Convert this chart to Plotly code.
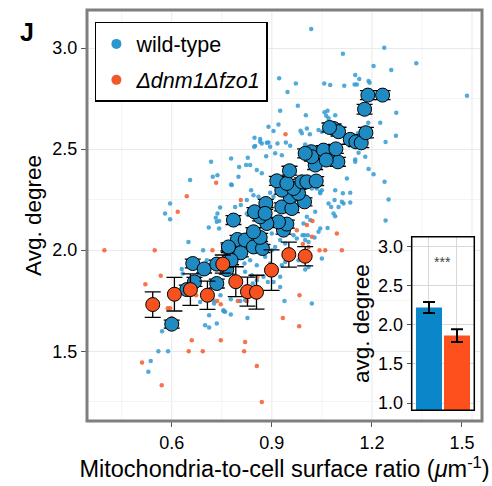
import plotly.graph_objects as go

# ---------------- data ----------------
# small dots: wild-type
wt_x = [0.778,0.828,0.718,0.802,0.823,0.723,0.737,0.655,0.778,0.800,0.595,0.580,0.595,0.745,0.737,0.735,0.711,0.742,0.807,0.825,0.650,
        1.018,1.113,1.150,0.922,0.972,1.057,1.075,1.117,1.148,0.947,0.978,0.925,1.002,1.058,1.063,1.090,1.070,0.920,0.890,0.905,0.986,1.005,1.014,1.040,1.050,0.848,0.865,0.890,0.917,0.942,0.955,1.000,0.850,0.870,
        1.237,1.205,1.258,1.333,1.485,1.162,1.190,1.193,1.155,1.273,1.189,1.225,1.272,1.241,1.158,
        1.160,1.180,1.150,1.190,1.205,1.238,1.250,1.241,
        0.865,0.847,0.885,0.895,0.930,0.910,0.883,0.990,1.067,1.125,1.150,1.135,1.113,1.090,1.088,1.115,1.135,1.070,1.090,1.067,1.040,0.998,1.035,1.050,1.045,
        0.835,0.780,0.855,0.870,0.838,0.845,0.860,0.825,0.895,0.905,1.020,1.045,1.078,1.100,1.110,1.085,1.030,1.005,1.015,0.995,0.965,0.975,0.992,1.008,1.045,1.028,1.000,1.050,0.790,0.780,0.900,0.925,0.940,0.910,0.900,0.895,0.880,0.835,0.855,0.818,0.820,0.840,0.875,
        1.020,0.938,0.827,1.010,1.000,0.980,0.940,0.930,0.925,0.905,0.855,0.843,0.820,0.805,1.010,
        0.925,0.777,0.760,0.777,0.888,
        0.571,0.560,0.589,0.537,0.530,0.700,0.712,0.735,0.712,0.727,0.746,0.756,
        0.732,0.742,0.694,0.630,0.705,
        0.633,0.683,0.755,0.685,0.725]
wt_y = [2.454,2.457,2.437,2.412,2.421,2.363,2.371,2.347,2.325,2.363,2.231,2.182,2.153,2.211,2.182,2.140,2.112,2.107,2.223,2.182,2.041,
        3.094,2.972,2.866,2.850,2.825,2.825,2.817,2.813,2.820,2.782,2.714,2.690,2.668,2.682,2.665,2.668,2.652,2.622,2.610,2.589,2.591,2.602,2.574,2.594,2.586,2.556,2.550,2.533,2.528,2.533,2.516,2.523,2.515,2.528,
        3.001,2.911,2.891,2.924,2.764,2.847,2.837,2.828,2.820,2.680,2.630,2.630,2.566,2.535,2.578,
        2.482,2.462,2.449,2.401,2.375,2.338,2.251,2.147,
        2.536,2.511,2.531,2.511,2.470,2.479,2.465,2.578,2.690,2.355,2.437,2.284,2.281,2.297,2.248,2.231,2.236,2.231,2.168,2.110,2.091,2.074,2.305,2.297,2.281,
        2.421,2.322,2.396,2.380,2.297,2.272,2.264,2.248,2.284,2.264,2.305,2.289,2.214,2.214,2.239,2.182,2.190,2.165,2.149,2.132,2.074,2.058,2.074,2.074,2.107,2.063,2.050,1.959,2.214,2.173,2.083,2.050,2.033,2.016,2.000,1.934,1.967,1.950,1.926,1.934,1.893,1.876,1.868,
        1.736,1.749,1.665,1.917,1.904,1.950,1.942,1.926,1.868,1.843,1.851,1.835,1.752,1.748,2.041,
        1.818,1.682,1.695,1.757,1.843,
        1.599,1.500,1.500,1.452,1.399,1.629,1.617,1.637,1.678,1.736,1.777,1.698,
        2.160,2.144,2.000,1.907,1.950,
        1.885,1.876,1.703,1.744,1.752]

# small dots: mutant
mu_x = [0.733,0.645,0.618,0.807,0.941,1.022,1.005,0.975,1.010,1.043,1.060,1.110,0.857,1.095,0.993,1.020,0.983,0.933,0.982,0.820,0.817,0.855,0.870,
        0.798,0.825,0.521,0.588,0.595,0.600,0.660,0.651,0.693,0.511,0.570,0.747,0.736,0.747,0.673,0.398,0.549,0.722,0.567]
mu_y = [2.333,2.267,2.190,2.248,2.574,2.144,2.124,2.099,2.016,2.000,2.000,2.000,1.868,2.083,2.030,2.066,1.777,1.665,1.624,1.546,1.500,1.427,1.249,
        1.749,1.749,1.832,1.713,1.713,1.665,1.554,1.500,1.500,1.444,1.332,1.554,1.749,1.733,1.777,2.000,2.000,2.000,1.873]

# binned means: wild-type
wtm_x = [0.600,0.645,0.668,0.663,0.697,0.735,0.735,0.765,0.771,0.797,0.807,0.778,0.770,0.820,0.845,0.872,0.865,0.845,0.785,0.935,
         0.945,0.920,0.885,0.865,0.848,0.882,0.930,0.960,0.998,0.955,0.980,0.930,0.965,0.915,0.945,0.990,1.005,1.033,0.953,1.018,
         1.030,1.020,1.098,1.068,1.055,1.092,1.085,1.100,1.135,1.152,1.168,1.182,1.178,1.188,1.232,0.880,1.063,1.000,1.073]
wtm_y = [1.634,1.805,1.843,1.934,1.907,1.835,1.931,1.904,2.008,2.053,1.987,1.950,2.016,2.050,2.016,2.008,2.063,2.091,2.149,2.099,
         2.129,2.140,2.132,2.165,2.190,2.231,2.214,2.206,2.239,2.264,2.281,2.297,2.305,2.343,2.330,2.338,2.338,2.342,2.393,2.487,
         2.421,2.462,2.437,2.479,2.495,2.501,2.602,2.586,2.548,2.536,2.531,2.581,2.697,2.767,2.767,2.182,2.446,2.479,2.607]
wtm_e = [0.020,0.022,0.022,0.022,0.020,0.022,0.020,0.022,0.020,0.020,0.020,0.022,0.020,0.020,0.020,0.020,0.020,0.020,0.022,0.020,
         0.020,0.020,0.020,0.020,0.020,0.020,0.020,0.020,0.020,0.020,0.020,0.020,0.020,0.022,0.020,0.020,0.020,0.022,0.022,0.022,
         0.022,0.022,0.022,0.022,0.022,0.022,0.022,0.022,0.024,0.024,0.024,0.026,0.024,0.022,0.022,0.020,0.022,0.022,0.022]

# binned means: mutant
mum_x = [0.543,0.608,0.656,0.707,0.753,0.792,0.827,0.854,0.899,0.951,1.000]
mum_y = [1.731,1.782,1.805,1.777,1.931,1.844,1.795,1.792,1.901,1.978,1.970]
mum_e = [0.063,0.083,0.078,0.070,0.045,0.074,0.072,0.084,0.100,0.062,0.048]

# inset bars
bar_pos = [1, 2]
bar_vals = [2.22, 1.86]
bar_errs = [0.07, 0.08]

x_tickvals = [0.6, 0.9, 1.2, 1.47]
x_ticktext = ["0.6", "0.9", "1.2", "1.5"]
y_tickvals = [1.5, 2.0, 2.5, 3.0]
y_ticktext = ["1.5", "2.0", "2.5", "3.0"]
in_tickvals = [1.0, 1.5, 2.0, 2.5, 3.0]
in_ticktext = ["1.0", "1.5", "2.0", "2.5", "3.0"]

BLUE = "#1f8bc2"
ORANGE = "#f5521f"
FONT = "Liberation Sans, Arial, Helvetica, sans-serif"

fig = go.Figure()

fig.add_trace(go.Scatter(x=wt_x, y=wt_y, mode="markers", showlegend=False, hoverinfo="skip",
                         marker=dict(size=4.5, color="rgba(50,155,210,0.85)", line=dict(width=0))))
fig.add_trace(go.Scatter(x=mu_x, y=mu_y, mode="markers", showlegend=False, hoverinfo="skip",
                         marker=dict(size=4.5, color="rgba(245,100,55,0.9)", line=dict(width=0))))
fig.add_trace(go.Scatter(x=wtm_x, y=wtm_y, mode="markers", showlegend=False,
                         error_y=dict(type="data", array=wtm_e, color="black", thickness=1.3, width=8),
                         marker=dict(size=14, color=BLUE, line=dict(color="black", width=1))))
fig.add_trace(go.Scatter(x=mum_x, y=mum_y, mode="markers", showlegend=False,
                         error_y=dict(type="data", array=mum_e, color="black", thickness=1.3, width=8),
                         marker=dict(size=14, color=ORANGE, line=dict(color="black", width=1))))

# legend entries
fig.add_trace(go.Scatter(x=[None], y=[None], mode="markers", name="wild-type", legendgroup="a",
                         marker=dict(size=10, color="#2a95cf")))
fig.add_trace(go.Scatter(x=[None], y=[None], mode="markers", name="<i>Δdnm1Δfzo1</i>", legendgroup="b",
                         marker=dict(size=10, color="#f05a2a")))

# inset bars
fig.add_trace(go.Bar(x=bar_pos, y=bar_vals, width=0.93, xaxis="x2", yaxis="y2", showlegend=False,
                     marker=dict(color=["#0a87c8", "#fe501c"], line=dict(width=0)),
                     error_y=dict(type="data", array=bar_errs, color="black", thickness=2, width=6)))

shapes = []
for v, c in [(0.45, "#f4f4f4"), (0.75, "#f4f4f4"), (1.05, "#f4f4f4"), (1.35, "#f4f4f4"),
             (0.6, "#e9e9e9"), (0.9, "#e9e9e9"), (1.2, "#e9e9e9"), (1.5, "#e9e9e9")]:
    shapes.append(dict(type="line", xref="x", yref="paper", x0=v, x1=v, y0=0, y1=1,
                       line=dict(color=c, width=1), layer="below"))
shapes.append(dict(type="rect", xref="paper", yref="paper", x0=0, x1=1, y0=0, y1=1,
                   line=dict(color="#7f7f7f", width=3), layer="above"))
shapes.append(dict(type="rect", xref="x2 domain", yref="y2 domain", x0=0, x1=1, y0=0, y1=1,
                   line=dict(color="black", width=1.5), layer="above"))

fig.update_layout(
    width=492, height=486,
    margin=dict(l=87, r=10, t=10, b=65),
    paper_bgcolor="white", plot_bgcolor="white",
    font=dict(family=FONT, color="black", size=18),
    shapes=shapes,
    legend=dict(x=0.02, y=0.971, xanchor="left", yanchor="top", bgcolor="white",
                bordercolor="black", borderwidth=1.5, font=dict(size=21.5, family=FONT),
                tracegroupgap=5),
    xaxis=dict(domain=[0, 1], range=[0.346, 1.530], tickvals=x_tickvals, ticktext=x_ticktext,
               ticks="outside", ticklen=5, tickcolor="#555", showgrid=False, zeroline=False,
               showline=False, tickfont=dict(size=18),
               title=dict(text="Mitochondria-to-cell surface ratio (<i>μ</i>m<sup>-1</sup>)",
                          font=dict(size=23.5), standoff=5)),
    yaxis=dict(domain=[0, 1], range=[1.155, 3.188], tickvals=y_tickvals, ticktext=y_ticktext,
               ticks="outside", ticklen=5, tickcolor="#555", showgrid=True, gridcolor="#e9e9e9",
               zeroline=False, showline=False, tickfont=dict(size=18),
               minor=dict(tickvals=[1.25, 1.75, 2.25, 2.75], showgrid=True, gridcolor="#f4f4f4"),
               title=dict(text="Avg. degree", font=dict(size=22.5), standoff=4)),
    xaxis2=dict(domain=[0.822, 0.9805], anchor="y2", range=[0.382, 2.618], tickvals=[1, 2],
                showticklabels=False, ticks="", showgrid=True, gridcolor="#d9d9d9", zeroline=False),
    yaxis2=dict(domain=[0.026, 0.448], anchor="x2", range=[0.907, 3.12], tickvals=in_tickvals,
                ticktext=in_ticktext, ticks="outside", ticklen=4, tickcolor="#555", showgrid=True,
                gridcolor="#d9d9d9", zeroline=False, tickfont=dict(size=18),
                title=dict(text="avg. degree", font=dict(size=22.5), standoff=2)),
    annotations=[
        dict(text="<b>J</b>", xref="paper", yref="paper", x=-0.175, y=0.985, showarrow=False,
             font=dict(size=25, family=FONT, color="black")),
        dict(text="***", xref="x2", yref="y2", x=1.5, y=2.8, showarrow=False,
             font=dict(size=14, color="#444")),
    ],
)

fig.write_html("out.html")
